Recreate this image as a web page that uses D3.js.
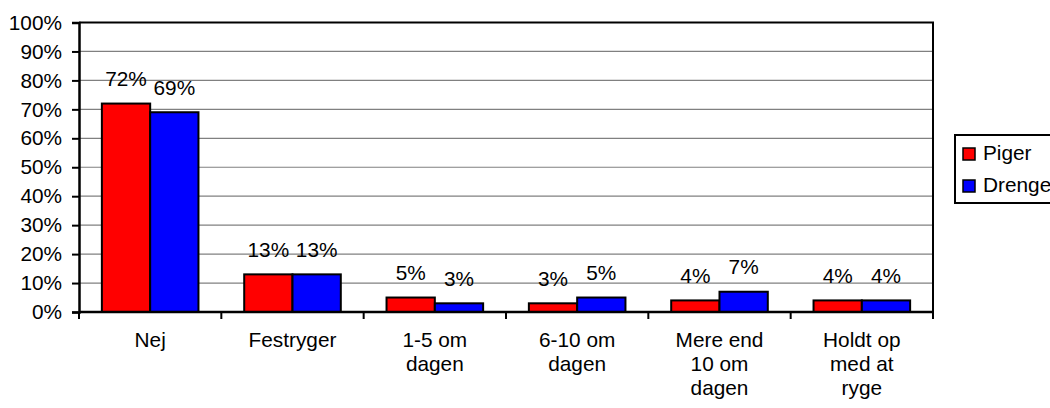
<!DOCTYPE html>
<html>
<head>
<meta charset="utf-8">
<script src="https://cdn.jsdelivr.net/npm/d3@7"></script>
<style>
  html, body { margin: 0; padding: 0; background: #fff; }
  svg { display: block; font-family: "Liberation Sans", Arial, sans-serif; }
</style>
</head>
<body>
<svg id="chart" width="1050" height="408"></svg>
<script>
// Rygevaner fordelt på køn (andel i procent)
const categories = ["Nej", "Festryger", "1-5 om\ndagen", "6-10 om\ndagen", "Mere end\n10 om\ndagen", "Holdt op\nmed at\nryge"];
const seriesNames = ["Piger", "Drenge"];
const piger = [72, 13, 5, 3, 4, 4];
const drenge = [69, 13, 3, 5, 7, 4];
const yTicks = [0, 10, 20, 30, 40, 50, 60, 70, 80, 90, 100];
const colors = ["#ff0000", "#0000ff"];

const values = [piger, drenge];
const rows = categories.map((c, i) => ({ cat: c, vals: seriesNames.map((s, j) => ({ s, v: values[j][i] })) }));

const svg = d3.select("#chart");
const m = { left: 79, right: 933, top: 22.5, bottom: 312 };
const fontSize = 20.8;

const x0 = d3.scaleBand().domain(categories).range([m.left, m.right]).padding(0);
const x1 = d3.scaleBand().domain(seriesNames).range([0, x0.bandwidth()]).paddingInner(0).paddingOuter(0.4735);
const y = d3.scaleLinear().domain([0, 100]).range([m.bottom, m.top]);

// gridlines
svg.append("g")
  .selectAll("line")
  .data(yTicks.filter(t => t > 0 && t < 100))
  .join("line")
  .attr("x1", m.left).attr("x2", m.right)
  .attr("y1", d => y(d)).attr("y2", d => y(d))
  .attr("stroke", "#808080").attr("stroke-width", 1.2);

// plot frame (top and right)
svg.append("path")
  .attr("d", `M${m.left},${y(100)}H${m.right}V${m.bottom}`)
  .attr("fill", "none").attr("stroke", "#000").attr("stroke-width", 2);

// bars
const groups = svg.append("g").selectAll("g")
  .data(rows).join("g")
  .attr("transform", d => `translate(${x0(d.cat)},0)`);

groups.selectAll("rect")
  .data(d => d.vals).join("rect")
  .attr("x", d => x1(d.s))
  .attr("y", d => y(d.v))
  .attr("width", x1.bandwidth())
  .attr("height", d => y(0) - y(d.v))
  .attr("fill", (d, i) => colors[i])
  .attr("stroke", "#000").attr("stroke-width", 2);

// value labels
groups.selectAll("text")
  .data(d => d.vals).join("text")
  .attr("x", d => x1(d.s) + x1.bandwidth() / 2)
  .attr("y", d => y(d.v) - 17.5)
  .attr("text-anchor", "middle")
  .attr("font-size", fontSize)
  .attr("fill", "#000")
  .text(d => d.v + "%");

// y axis
const yAxis = svg.append("g")
  .attr("transform", `translate(${m.left},0)`)
  .call(d3.axisLeft(y).tickValues(yTicks).tickFormat(d => d + "%").tickSize(7).tickPadding(10));
yAxis.select(".domain").attr("stroke-width", 2.5);
yAxis.selectAll(".tick line").attr("stroke-width", 2);
yAxis.selectAll("text").attr("font-size", fontSize).attr("font-family", "Liberation Sans, Arial, sans-serif").attr("fill", "#000");

// x axis with ticks at category boundaries
const xAxis = svg.append("g").attr("transform", `translate(0,${m.bottom})`);
xAxis.append("line")
  .attr("x1", m.left).attr("x2", m.right)
  .attr("stroke", "#000").attr("stroke-width", 2.5);
const boundaries = categories.map(c => x0(c)).concat([m.right]);
xAxis.selectAll("line.tk")
  .data(boundaries).join("line")
  .attr("class", "tk")
  .attr("x1", d => d).attr("x2", d => d)
  .attr("y1", 0).attr("y2", 7)
  .attr("stroke", "#000").attr("stroke-width", 2);

// category labels, wrapped on newline
const lineH = 24;
xAxis.selectAll("text.cat")
  .data(categories).join("text")
  .attr("class", "cat")
  .attr("text-anchor", "middle")
  .attr("font-size", fontSize)
  .attr("fill", "#000")
  .each(function (d) {
    const t = d3.select(this);
    d.split("\n").forEach((ln, i) => {
      t.append("tspan")
        .attr("x", x0(d) + x0.bandwidth() / 2)
        .attr("y", 34.5 + i * lineH)
        .text(ln);
    });
  });

// legend
const legend = svg.append("g");
legend.append("rect")
  .attr("x", 955).attr("y", 135).attr("width", 110).attr("height", 68)
  .attr("fill", "#fff").attr("stroke", "#000").attr("stroke-width", 2);
const li = legend.selectAll("g.item")
  .data(seriesNames).join("g")
  .attr("class", "item")
  .attr("transform", (d, i) => `translate(963,${148 + i * 32})`);
li.append("rect")
  .attr("width", 12).attr("height", 12)
  .attr("fill", (d, i) => colors[i])
  .attr("stroke", "#000").attr("stroke-width", 1.5);
li.append("text")
  .attr("x", 20).attr("y", 12)
  .attr("font-size", fontSize)
  .attr("fill", "#000")
  .text(d => d);
</script>
</body>
</html>
